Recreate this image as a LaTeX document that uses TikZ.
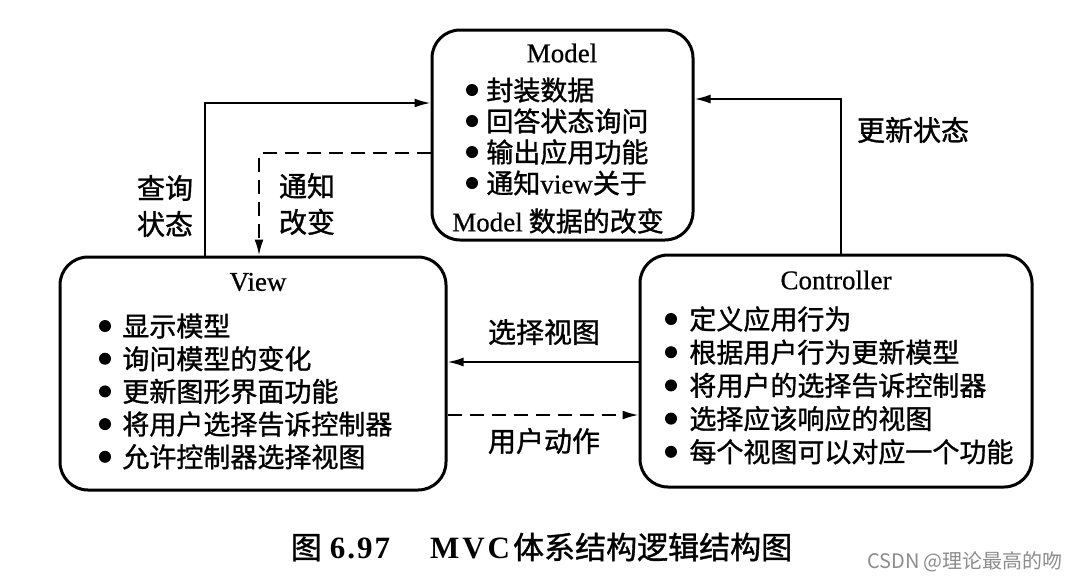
\documentclass[tikz,border=0pt]{standalone}
\usepackage{fontspec}
\setmainfont{Liberation Serif}
\newfontfamily\ttl[FakeBold=0.6]{Liberation Serif}
\newfontfamily\cjk[FakeBold=1.2]{Noto Sans CJK SC}
\newfontfamily\wmfont{Noto Sans CJK SC}
\usetikzlibrary{arrows.meta}
\tikzset{
  box/.style={draw, line width=1.5pt, rounded corners=14pt, inner sep=0pt},
  arr/.style={line width=1pt, -{Latex[length=8pt,width=4.5pt]}},
  dsh/.style={dash pattern=on 7pt off 4pt},
  title/.style={font=\ttl\fontsize{13.5}{16}\selectfont, inner sep=0pt},
  item/.style={anchor=west, font=\cjk\fontsize{13.5}{16}\selectfont, inner sep=0pt},
  lab/.style={font=\cjk\fontsize{14}{16}\selectfont, align=center, inner sep=0pt},
}
\begin{document}
\begin{tikzpicture}[x=0.5pt,y=-0.5pt]
\useasboundingbox (0,0) rectangle (1075,580);
% boxes
\node[box, minimum width=130.5pt, minimum height=105pt] (model) at (562.5,135) {};
\node[box, minimum width=193pt, minimum height=116.5pt] (view) at (253,373.5) {};
\node[box, minimum width=196pt, minimum height=116pt] (ctrl) at (836,371) {};
% titles
\node[title] (mt) at (562,53) {Model};
\node[title] (vt) at (258,282) {View};
\node[title] (ct) at (836,280) {Controller};
% model items
\foreach \t [count=\i] in {封装数据,回答状态询问,输出应用功能,通知{\ttl view}关于}{
  \pgfmathsetmacro\yy{90+31*(\i-1)}
  \fill (472,\yy) circle (3pt);
  \node[item] (m\i) at (486,\yy) {\t};
}
\node[item, anchor=center] (m5) at (558,221) {{\ttl Model} 数据的改变};
% view items
\foreach \t [count=\i] in {显示模型,询问模型的变化,更新图形界面功能,将用户选择告诉控制器,允许控制器选择视图}{
  \pgfmathsetmacro\yy{326+32.7*(\i-1)}
  \fill (105,\yy) circle (3pt);
  \node[item] (v\i) at (122,\yy) {\t};
}
% controller items
\foreach \t [count=\i] in {定义应用行为,根据用户行为更新模型,将用户的选择告诉控制器,选择应该响应的视图,每个视图可以对应一个功能}{
  \pgfmathsetmacro\yy{319+33.2*(\i-1)}
  \fill (671,\yy) circle (3pt);
  \node[item] (c\i) at (689,\yy) {\t};
}
% helper coordinates
\coordinate (q) at (205,103);
\coordinate (n) at (259,153);
\coordinate (u) at (841,99);
\coordinate (s) at (0,362);
\coordinate (a) at (0,415);
% connectors
\draw[arr] (view.north -| q) |- (model.west |- q);
\draw[arr, dsh] (model.west |- n) -| (view.north -| n);
\draw[arr] (ctrl.north -| u) |- (model.east |- u);
\draw[arr] (ctrl.west |- s) -- (view.east |- s);
\draw[arr, dsh] (view.east |- a) -- (ctrl.west |- a);
% labels
\node[lab] (lq) at (165,206) {查询\\[2pt]状态};
\node[lab] (ln) at (307,204) {通知\\[2pt]改变};
\node[lab] (lu) at (913,130) {更新状态};
\node[lab] (ls) at (544,332) {选择视图};
\node[lab] (la) at (544,441) {用户动作};
% caption
\node[inner sep=0pt, font=\fontsize{15.5}{18}\selectfont] (cap) at (541.5,547)
  {{\cjk 图}\hspace{4pt}\textbf{6\hspace{1pt}.\hspace{1pt}9\hspace{1pt}7}\hspace{20pt}\textbf{M\hspace{1.5pt}V\hspace{1.5pt}C}\hspace{1.5pt}{\cjk 体系结构逻辑结构图}};
% watermark
\node[inner sep=0pt, text=black!45, font=\wmfont\fontsize{10}{12}\selectfont] (wm) at (965,562) {CSDN @理论最高的吻};
\end{tikzpicture}
\end{document}
